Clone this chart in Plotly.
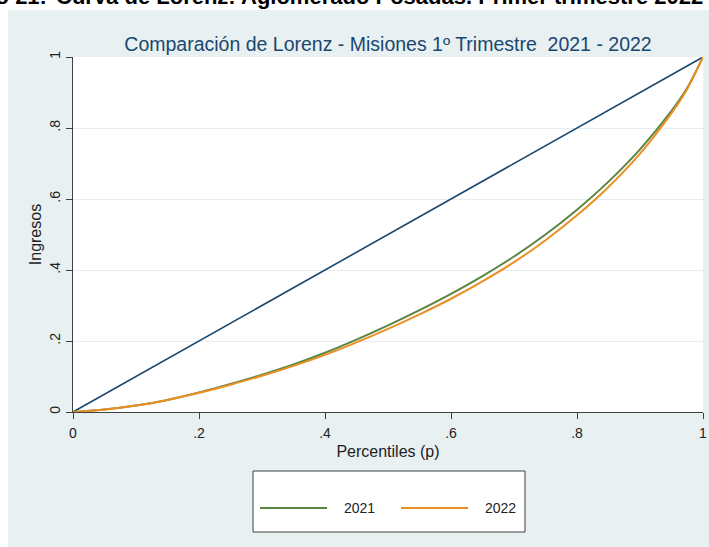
import plotly.graph_objects as go

# Percentiles and Lorenz ordinates
PERCENTILES = [0, 0.05, 0.10, 0.15, 0.20, 0.25, 0.30, 0.35, 0.40, 0.45, 0.50,
               0.55, 0.60, 0.65, 0.70, 0.75, 0.80, 0.85, 0.90, 0.95, 0.975, 1.0]
LORENZ_2021 = [0, 0.007, 0.018, 0.034, 0.055, 0.079, 0.105, 0.134, 0.167, 0.204, 0.244,
               0.287, 0.333, 0.383, 0.438, 0.500, 0.570, 0.649, 0.740, 0.848, 0.913, 1.0]
LORENZ_2022 = [0, 0.007, 0.018, 0.034, 0.054, 0.077, 0.102, 0.130, 0.161, 0.196, 0.234,
               0.275, 0.319, 0.368, 0.422, 0.484, 0.554, 0.634, 0.728, 0.842, 0.910, 1.0]
EQUALITY_X = [0, 1]
EQUALITY_Y = [0, 1]

TICK_VALS = [0, 0.2, 0.4, 0.6, 0.8, 1]
TICK_TEXT = ['0', '.2', '.4', '.6', '.8', '1']
SERIES = ['2021', '2022']

NAVY = '#1a476f'
GREEN = '#5a8540'
ORANGE = '#ec8f22'
PANEL_BG = '#e8f0f2'
GRID = '#e4eef0'
AXIS = '#404040'
FONT = 'Liberation Sans, Arial, sans-serif'

# plot area in pixels (709 x 547 page)
L, R, T, B = 73, 6, 57, 135
W, H = 709, 547
PW, PH = W - L - R, H - T - B


def px_x(px):
    return (px - L) / PW


def px_y(py):
    return (H - B - py) / PH


fig = go.Figure()

fig.add_trace(go.Scatter(x=EQUALITY_X, y=EQUALITY_Y, mode='lines',
                         line=dict(color=NAVY, width=1.6), showlegend=False))
fig.add_trace(go.Scatter(x=PERCENTILES, y=LORENZ_2021, mode='lines', name=SERIES[0],
                         line=dict(color=GREEN, width=2, shape='spline', smoothing=0.8),
                         showlegend=False))
fig.add_trace(go.Scatter(x=PERCENTILES, y=LORENZ_2022, mode='lines', name=SERIES[1],
                         line=dict(color=ORANGE, width=2, shape='spline', smoothing=0.8),
                         showlegend=False))

axis_common = dict(
    range=[0, 1], tickvals=TICK_VALS, ticktext=TICK_TEXT,
    showline=True, linecolor=AXIS, linewidth=1.2,
    ticks='outside', ticklen=6, tickcolor=AXIS, tickwidth=1.2,
    zeroline=False, tickfont=dict(family=FONT, size=14, color='#222222'),
)

fig.update_xaxes(**axis_common, showgrid=False, ticklabelstandoff=2,
                 title=dict(text='Percentiles (p)', standoff=5,
                            font=dict(family=FONT, size=16, color='#222222')))
fig.update_yaxes(**axis_common, showgrid=True, gridcolor=GRID, gridwidth=1,
                 tickangle=-90, ticklabelstandoff=0,
                 title=dict(text='Ingresos', standoff=1,
                            font=dict(family=FONT, size=16, color='#222222')))

# white strips around the Stata panel (top and left of page)
shapes = [
    dict(type='rect', xref='paper', yref='paper', x0=px_x(-5), x1=px_x(W + 5),
         y0=px_y(10), y1=px_y(-5), fillcolor='white', line=dict(width=0), layer='below'),
    dict(type='rect', xref='paper', yref='paper', x0=px_x(-5), x1=px_x(8),
         y0=px_y(H + 5), y1=px_y(-5), fillcolor='white', line=dict(width=0), layer='below'),
    # legend box, Stata style
    dict(type='rect', xref='paper', yref='paper', x0=px_x(253), x1=px_x(525),
         y0=px_y(532), y1=px_y(471), fillcolor='white', line=dict(color=AXIS, width=1)),
    dict(type='line', xref='paper', yref='paper', x0=px_x(260), x1=px_x(327),
         y0=px_y(508), y1=px_y(508), line=dict(color=GREEN, width=2)),
    dict(type='line', xref='paper', yref='paper', x0=px_x(401), x1=px_x(468),
         y0=px_y(508), y1=px_y(508), line=dict(color=ORANGE, width=2)),
]

annotations = [
    dict(text='<b>Gráfico 21:</b>', xref='paper', yref='paper',
         x=px_x(49), y=px_y(11), xanchor='right', yanchor='bottom',
         showarrow=False, font=dict(family=FONT, size=22, color='black')),
    dict(text='<b>Curva de Lorenz: Aglomerado Posadas. Primer trimestre 2022</b>',
         xref='paper', yref='paper', x=px_x(54), y=px_y(11),
         xanchor='left', yanchor='bottom', showarrow=False,
         font=dict(family=FONT, size=22, color='black')),
    dict(text=SERIES[0], xref='paper', yref='paper', x=px_x(342), y=px_y(508),
         xanchor='left', yanchor='middle', showarrow=False,
         font=dict(family=FONT, size=14, color='#222222')),
    dict(text=SERIES[1], xref='paper', yref='paper', x=px_x(483), y=px_y(508),
         xanchor='left', yanchor='middle', showarrow=False,
         font=dict(family=FONT, size=14, color='#222222')),
]

fig.update_layout(
    width=W, height=H,
    margin=dict(l=L, r=R, t=T, b=B, autoexpand=False),
    paper_bgcolor=PANEL_BG, plot_bgcolor='white',
    font=dict(family=FONT, color='#222222'),
    title=dict(text='Comparación de Lorenz - Misiones 1º Trimestre  2021 - 2022',
               x=0.5, xref='paper', xanchor='center', y=(H - 44) / H,
               yref='container', yanchor='middle',
               font=dict(family=FONT, size=19.5, color=NAVY)),
    shapes=shapes,
    annotations=annotations,
    showlegend=False,
)

fig.write_html('out.html', config={'displayModeBar': False},
               post_script="document.body.style.margin='0';")
